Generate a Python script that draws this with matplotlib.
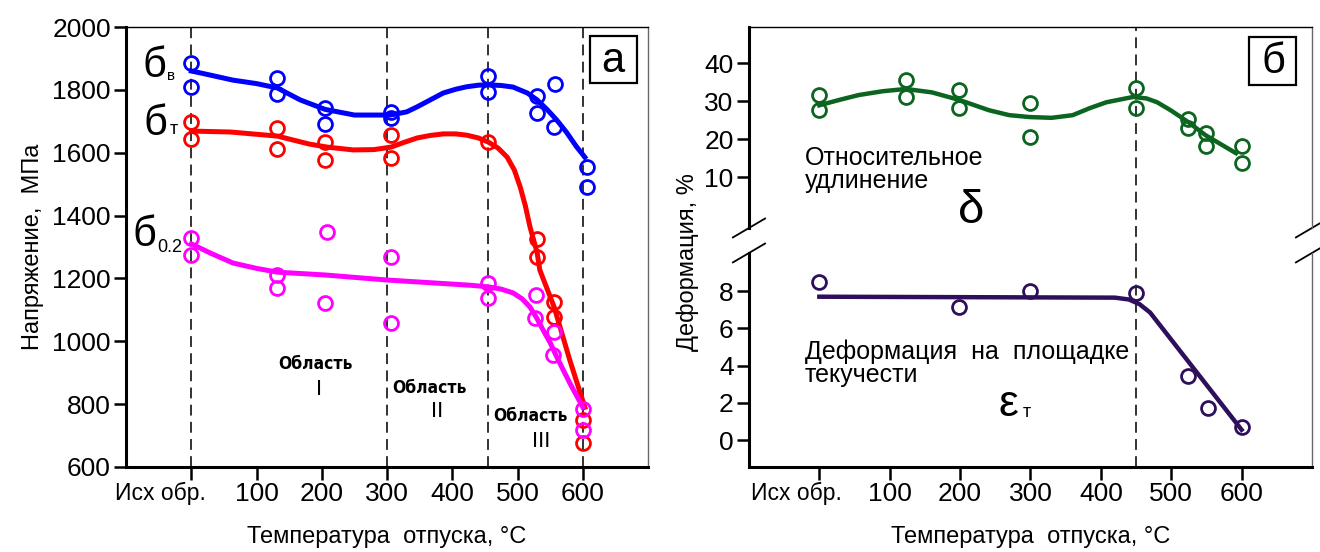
import matplotlib
matplotlib.use("Agg")
import matplotlib.pyplot as plt
from matplotlib.patches import Rectangle
from matplotlib.transforms import ScaledTranslation

plt.rcParams['font.family'] = ['Liberation Sans', 'DejaVu Sans']

# Left panel: stresses, MPa
sb_x = [0, 0, 132, 132, 205, 205, 306, 306, 455, 455, 530, 530, 557, 556, 606, 606]
sb_y = [1886, 1809, 1838, 1787, 1742, 1691, 1730, 1711, 1844, 1793, 1780, 1727, 1819, 1682, 1555, 1491]
sb_cx = [0, 14, 64, 100, 132, 167, 205, 250, 305, 330, 346, 366, 386, 405, 422, 440, 455, 475, 493,
         515, 530, 545, 560, 575, 590, 603]
sb_cy = [1860, 1854, 1831, 1820, 1806, 1768, 1738, 1720, 1720, 1730, 1746, 1768, 1790, 1802, 1810, 1815,
         1816, 1814, 1809, 1790, 1768, 1738, 1704, 1665, 1620, 1586]

st_x = [0, 0, 132, 132, 205, 205, 306, 306, 455, 530, 530, 556, 556, 600, 600]
st_y = [1698, 1644, 1679, 1612, 1634, 1577, 1657, 1583, 1634, 1325, 1268, 1125, 1077, 750, 676]
st_cx = [0, 60, 132, 180, 208, 248, 280, 306, 326, 346, 366, 386, 405, 422, 440, 455, 470, 484, 495,
         504, 512, 519, 530, 534, 556, 580, 603]
st_cy = [1669, 1666, 1653, 1628, 1618, 1609, 1610, 1618, 1633, 1647, 1655, 1660, 1660, 1656, 1647, 1634,
         1615, 1586, 1545, 1491, 1430, 1364, 1281, 1227, 1109, 940, 790]

s02_x = [0, 0, 132, 132, 208, 205, 306, 306, 455, 455, 528, 527, 556, 554, 600, 600]
s02_y = [1329, 1275, 1211, 1170, 1348, 1122, 1268, 1058, 1185, 1138, 1147, 1074, 1030, 956, 785, 719]
s02_cx = [0, 30, 64, 100, 132, 205, 300, 400, 430, 456, 475, 493, 507, 519, 529, 539, 550, 560, 580, 600]
s02_cy = [1310, 1280, 1249, 1232, 1220, 1211, 1195, 1182, 1178, 1173, 1166, 1154, 1135, 1109, 1075,
          1036, 995, 950, 867, 790]

# Right panel: elongation and yield-plateau strain, %
d_x = [0, 0, 123, 123, 199, 199, 299, 299, 450, 450, 524, 524, 549, 549, 600, 600]
d_y = [31.6, 27.6, 35.5, 31.1, 32.9, 28.2, 29.5, 20.5, 33.4, 28.2, 25.3, 22.9, 21.6, 18.2, 18.2, 13.7]
d_cx = [0, 28, 56, 90, 123, 160, 199, 241, 270, 299, 330, 360, 385, 408, 446, 465, 480, 500, 524, 549, 592]
d_cy = [28.9, 30.3, 31.6, 32.6, 33.2, 32.3, 30.3, 27.6, 26.3, 25.8, 25.6, 26.3, 28.2, 29.7, 31.1, 30.7,
        29.7, 27.5, 24.5, 21.0, 16.3]

e_x = [0, 199, 300, 450, 524, 552, 600]
e_y = [8.5, 7.15, 8.0, 7.9, 3.45, 1.7, 0.7]
e_cx = [0, 420, 440, 455, 470, 600]
e_cy = [7.7, 7.65, 7.55, 7.3, 6.85, 0.55]

xticks = [0, 100, 200, 300, 400, 500, 600]
xticklabels = ['Исх обр.', '100', '200', '300', '400', '500', '600']

fig = plt.figure(figsize=(13.2, 5.52), dpi=100)
ax = fig.add_axes([0.0955, 0.154, 0.3955, 0.797])
axt = fig.add_axes([0.5674, 0.587, 0.4265, 0.364])
axb = fig.add_axes([0.5674, 0.154, 0.4265, 0.3877])

dash = (0, (6, 3.5))
mk = dict(marker='o', ls='none', mfc='none', ms=10, mew=2, zorder=4)


def style(a, top=True, bottom=True):
    a.set_xlim(-100, 700)
    a.spines['left'].set_linewidth(2.2)
    a.spines['bottom'].set_linewidth(2.2)
    a.spines['top'].set_linewidth(1.0)
    a.spines['right'].set_linewidth(1.0)
    a.spines['right'].set_color('#666666')
    a.spines['top'].set_visible(top)
    a.spines['bottom'].set_visible(bottom)
    a.tick_params(direction='out', length=9, width=1.8, labelsize=19, pad=2)


def first_label(a, dx):
    a.set_xticks(xticks)
    a.set_xticklabels(xticklabels)
    lab = a.get_xticklabels()[0]
    lab.set_fontsize(16.5)
    lab.set_transform(lab.get_transform() + ScaledTranslation(dx / 100, 0, fig.dpi_scale_trans))


# ---- left panel
style(ax)
ax.set_ylim(600, 2000)
ax.set_yticks(range(600, 2001, 200))
first_label(ax, -31)
for xv in [0, 300, 455, 600]:
    ax.axvline(xv, color='#222222', lw=1.3, ls=dash, zorder=1)

ax.plot(sb_cx, sb_cy, color='#0000ff', lw=3.6, solid_joinstyle='round', zorder=3)
ax.plot(sb_x, sb_y, mec='#0000ff', **mk)
ax.plot(st_cx, st_cy, color='#ff0000', lw=3.6, solid_joinstyle='round', zorder=3)
ax.plot(st_x, st_y, mec='#ff0000', **mk)
ax.plot(s02_cx, s02_cy, color='#ff00ff', lw=3.6, solid_joinstyle='round', zorder=3)
ax.plot(s02_x, s02_y, mec='#ff00ff', **mk)

ax.set_ylabel('Напряжение,  МПа', fontsize=17, labelpad=6)
ax.set_xlabel('Температура  отпуска, °С', fontsize=17, labelpad=14)

tr = ax.transAxes
ax.text(0.054, 0.911, 'б', transform=tr, fontsize=30, ha='center', va='center')
ax.text(0.0785, 0.888, 'в', transform=tr, fontsize=11, ha='left', va='center')
ax.text(0.0555, 0.78, 'б', transform=tr, fontsize=30, ha='center', va='center')
ax.text(0.084, 0.768, 'т', transform=tr, fontsize=13, ha='left', va='center')
ax.text(0.0345, 0.527, 'б', transform=tr, fontsize=30, ha='center', va='center')
ax.text(0.0594, 0.5, '0.2', transform=tr, fontsize=13, ha='left', va='center')

reg = dict(transform=tr, fontsize=12.5, fontweight='bold', fontstretch='condensed',
           family=['DejaVu Sans'], ha='center', va='center')
ax.text(0.362, 0.234, 'Область', **reg)
ax.text(0.369, 0.177, 'I', transform=tr, fontsize=16, ha='center', va='center')
ax.text(0.582, 0.18, 'Область', **reg)
ax.text(0.596, 0.125, 'II', transform=tr, fontsize=16, ha='center', va='center')
ax.text(0.774, 0.116, 'Область', **reg)
ax.text(0.795, 0.057, 'III', transform=tr, fontsize=16, ha='center', va='center')

ax.add_patch(Rectangle((0.888, 0.872), 0.09, 0.107, transform=tr, fill=False, lw=1.6, clip_on=False))
ax.text(0.933, 0.922, 'а', transform=tr, fontsize=30, ha='center', va='center')

# ---- right panel, top part (elongation)
style(axt, top=True, bottom=False)
axt.set_ylim(-3.4, 49.5)
axt.set_yticks([10, 20, 30, 40])
axt.tick_params(axis='x', bottom=False, labelbottom=False)
axt.axvline(450, ymin=-0.13, ymax=1, color='#222222', lw=1.3, ls=dash, zorder=1, clip_on=False)
axt.plot(d_cx, d_cy, color='#0b6420', lw=3.2, solid_joinstyle='round', zorder=3)
axt.plot(d_x, d_y, mec='#0b6420', **mk)

trt = axt.transAxes
axt.text(0.0995, 0.41, 'Относительное\nудлинение', transform=trt, fontsize=18,
         ha='left', va='top', linespacing=0.95)
axt.text(0.395, 0.085, 'δ', transform=trt, fontsize=34, ha='center', va='center')
axt.add_patch(Rectangle((0.889, 0.713), 0.0835, 0.239, transform=trt, fill=False, lw=1.6, clip_on=False))
axt.text(0.931, 0.825, 'б', transform=trt, fontsize=30, ha='center', va='center')

# ---- right panel, bottom part (yield plateau strain)
style(axb, top=False, bottom=True)
axb.set_ylim(-1.45, 10.05)
axb.set_yticks([0, 2, 4, 6, 8])
first_label(axb, -23)
axb.axvline(450, color='#222222', lw=1.3, ls=dash, zorder=1)
axb.plot(e_cx, e_cy, color='#2e0f5c', lw=3.2, solid_joinstyle='round', zorder=3)
axb.plot(e_x, e_y, mec='#2e0f5c', **mk)
axb.set_xlabel('Температура  отпуска, °С', fontsize=17, labelpad=14)

trb = axb.transAxes
axb.text(0.0995, 0.595, 'Деформация  на  площадке\nтекучести', transform=trb, fontsize=18,
         ha='left', va='top', linespacing=0.95)
axb.text(0.46, 0.29, 'ε', transform=trb, fontsize=32, ha='center', va='center')
axb.text(0.487, 0.255, 'т', transform=trb, fontsize=13, ha='left', va='center')

fig.text(688 / 1320, 1 - 262 / 552, 'Деформация, %', rotation=90, fontsize=17,
         ha='center', va='center')

# axis break marks
for a, y0, dy in [(axt, 0.0, 0.047), (axb, 1.0, 0.044)]:
    for x0 in (0.0, 1.0):
        a.plot([x0 - 0.0285, x0 + 0.0285], [y0 - dy, y0 + dy], transform=a.transAxes,
               color='black', lw=1.3, clip_on=False)

fig.savefig('out.png', dpi=100)
